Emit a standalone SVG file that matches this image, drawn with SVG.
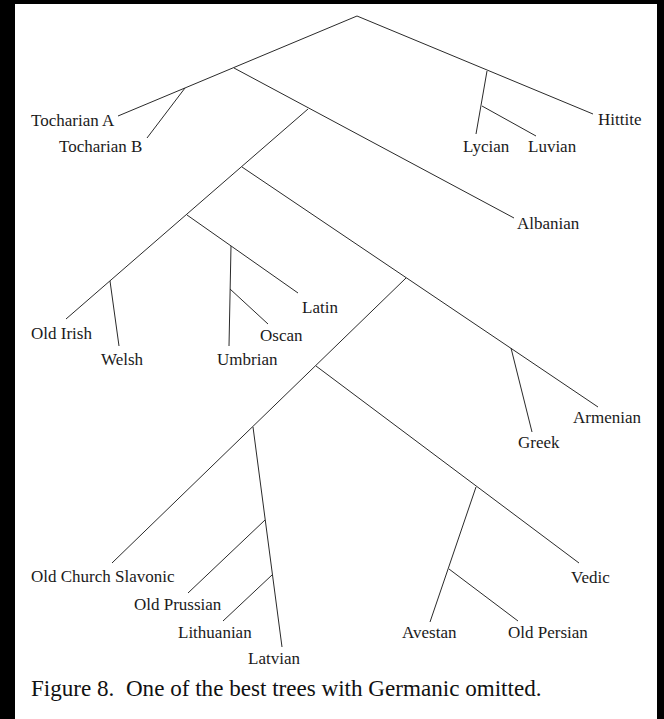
<svg xmlns="http://www.w3.org/2000/svg" width="664" height="719" viewBox="0 0 664 719">
<style>
.lbl{font-family:"Liberation Serif","Times New Roman",serif;font-size:17px;fill:#1a1a1a}
.cap{font-family:"Liberation Serif","Times New Roman",serif;font-size:23.1px;fill:#111}
.e{stroke:#2a2a2a;stroke-width:1;fill:none}
</style>
<rect x="0" y="0" width="664" height="719" fill="#000"/>
<rect x="15" y="4" width="642" height="715" fill="#fff"/>
<g id="connectors">
<line class="e" x1="357" y1="16" x2="118" y2="116"/>
<line class="e" x1="357" y1="16" x2="593" y2="114"/>
<line class="e" x1="185" y1="88" x2="147" y2="138"/>
<line class="e" x1="487" y1="71" x2="476" y2="134"/>
<line class="e" x1="482" y1="106" x2="536" y2="136"/>
<line class="e" x1="234" y1="68" x2="514" y2="218"/>
<line class="e" x1="308" y1="109" x2="66" y2="319"/>
<line class="e" x1="242" y1="167" x2="598" y2="407"/>
<line class="e" x1="110" y1="281" x2="119" y2="346"/>
<line class="e" x1="187" y1="215" x2="298" y2="293"/>
<line class="e" x1="231" y1="246" x2="229" y2="346"/>
<line class="e" x1="230" y1="289" x2="268" y2="324"/>
<line class="e" x1="406" y1="278" x2="112" y2="563"/>
<line class="e" x1="511" y1="348" x2="532" y2="432"/>
<line class="e" x1="316" y1="366" x2="579" y2="563"/>
<line class="e" x1="476" y1="487" x2="430" y2="622"/>
<line class="e" x1="449" y1="569" x2="518" y2="621"/>
<line class="e" x1="253" y1="427" x2="282" y2="647"/>
<line class="e" x1="265" y1="520" x2="188" y2="593"/>
<line class="e" x1="272" y1="575" x2="223" y2="621"/>
</g>
<g id="tocharian-a"><text class="lbl" x="31" y="126">Tocharian A</text></g>
<g id="tocharian-b"><text class="lbl" x="59" y="152">Tocharian B</text></g>
<g id="hittite"><text class="lbl" x="598" y="125">Hittite</text></g>
<g id="lycian"><text class="lbl" x="463" y="152">Lycian</text></g>
<g id="luvian"><text class="lbl" x="528" y="152">Luvian</text></g>
<g id="albanian"><text class="lbl" x="517" y="229">Albanian</text></g>
<g id="latin"><text class="lbl" x="302" y="313">Latin</text></g>
<g id="old-irish"><text class="lbl" x="31" y="339">Old Irish</text></g>
<g id="oscan"><text class="lbl" x="260" y="341">Oscan</text></g>
<g id="welsh"><text class="lbl" x="101" y="365">Welsh</text></g>
<g id="umbrian"><text class="lbl" x="217" y="365">Umbrian</text></g>
<g id="armenian"><text class="lbl" x="573" y="423">Armenian</text></g>
<g id="greek"><text class="lbl" x="518" y="448">Greek</text></g>
<g id="vedic"><text class="lbl" x="571" y="583">Vedic</text></g>
<g id="old-church-slavonic"><text class="lbl" x="31" y="582">Old Church Slavonic</text></g>
<g id="old-prussian"><text class="lbl" x="134" y="610">Old Prussian</text></g>
<g id="lithuanian"><text class="lbl" x="178" y="638">Lithuanian</text></g>
<g id="avestan"><text class="lbl" x="402" y="638">Avestan</text></g>
<g id="old-persian"><text class="lbl" x="508" y="638">Old Persian</text></g>
<g id="latvian"><text class="lbl" x="248" y="664">Latvian</text></g>
<g id="caption"><text class="cap" x="31" y="696" xml:space="preserve">Figure 8.  One of the best trees with Germanic omitted.</text></g>
</svg>
